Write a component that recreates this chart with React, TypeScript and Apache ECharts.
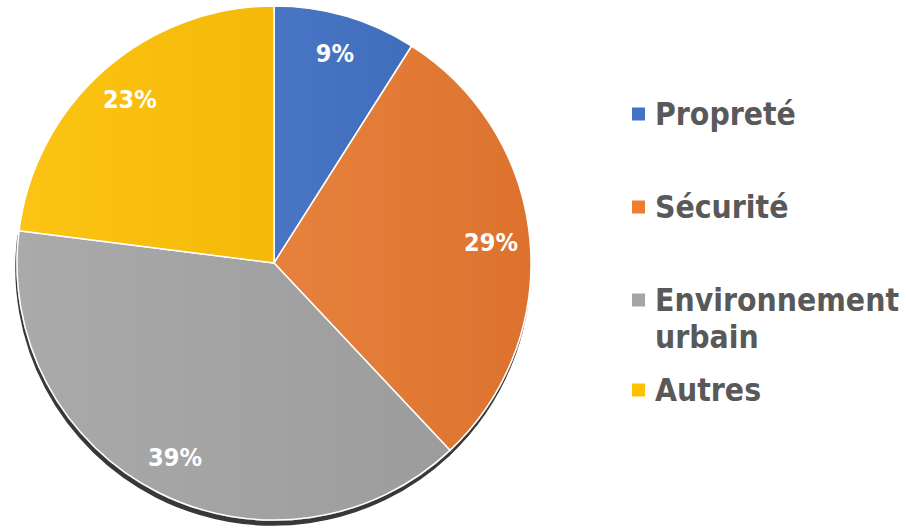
import React, { useEffect, useRef } from "react";
import * as echarts from "echarts";

const categories = ["Propreté", "Sécurité", "Environnement urbain", "Autres"];
const legendLabels = ["Propreté", "Sécurité", "Environnement\nurbain", "Autres"];
const values = [9, 29, 39, 23];
const colors = ["#4472C4", "#ED7D31", "#A5A5A5", "#FFC000"];
const gradients = [
  ["#4875C4", "#416EBC"],
  ["#E6823E", "#DD722D"],
  ["#AAAAAA", "#9C9C9C"],
  ["#FCC414", "#F4B909"],
];
const legendY = [114, 207, 300, 390];

const FONT = '"DejaVu Sans Condensed", "DejaVu Sans", sans-serif';

export default function App() {
  const ref = useRef<HTMLDivElement>(null);
  useEffect(() => {
    if (!ref.current) return;
    const chart = echarts.init(ref.current, null, { renderer: "svg" });
    const center = [274, 263];
    const pieData = categories.map((name, i) => {
      const shadow = i === 1 || i === 2;
      return {
        name,
        value: values[i],
        itemStyle: {
          color: new echarts.graphic.LinearGradient(0, 0, 1, 0, [
            { offset: 0, color: gradients[i][0] },
            { offset: 1, color: gradients[i][1] },
          ]),
          shadowColor: shadow ? "rgba(55,55,55,1)" : "transparent",
          shadowBlur: shadow ? 0.5 : 0,
          shadowOffsetX: shadow ? -1 : 0,
          shadowOffsetY: shadow ? 5 : 0,
        },
      };
    });
    const graphic: any[] = [];
    legendLabels.forEach((label, i) => {
      graphic.push({
        type: "rect",
        shape: { x: 632, y: legendY[i] - 6.5, width: 13, height: 13 },
        style: { fill: colors[i] },
        silent: true,
      });
      const lines = label.split("\n").length;
      graphic.push({
        type: "text",
        x: 655,
        y: legendY[i] + ((lines - 1) * 37) / 2,
        style: {
          text: label,
          fill: "#595959",
          fontFamily: FONT,
          fontWeight: "bold",
          fontSize: 31.6,
          lineHeight: 37,
          align: "left",
          verticalAlign: "middle",
        },
        silent: true,
      });
    });
    chart.setOption({
      animation: false,
      backgroundColor: "#ffffff",
      series: [
        {
          type: "pie",
          center,
          radius: [0, 257],
          startAngle: 90,
          clockwise: true,
          silent: true,
          label: { show: false },
          labelLine: { show: false },
          itemStyle: { borderColor: "#ffffff", borderWidth: 1.5 },
          data: pieData,
        },
        {
          type: "pie",
          center,
          radius: [190, 240],
          startAngle: 90,
          clockwise: true,
          silent: true,
          itemStyle: { color: "transparent", borderWidth: 0 },
          label: {
            show: true,
            position: "inside",
            formatter: "{c}%",
            color: "#ffffff",
            fontFamily: FONT,
            fontWeight: "bold",
            fontSize: 25,
          },
          labelLine: { show: false },
          data: categories.map((name, i) => ({ name, value: values[i] })),
        },
      ],
      graphic,
    });
    return () => chart.dispose();
  }, []);
  return (
    <div
      ref={ref}
      style={{ position: "absolute", left: 0, top: 0, width: 906, height: 528 }}
    />
  );
}
